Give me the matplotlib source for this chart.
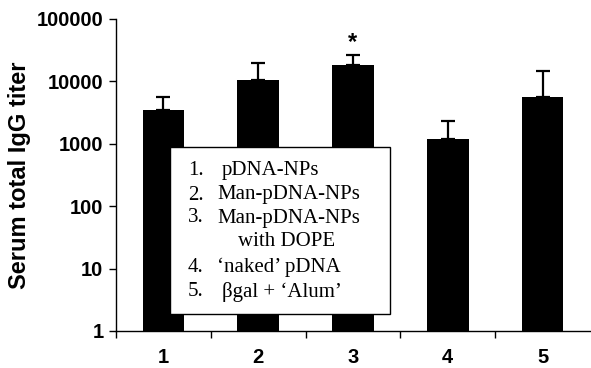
import matplotlib
matplotlib.use('Agg')
import matplotlib.pyplot as plt
from matplotlib.patches import Rectangle

# Data
groups = ['1', '2', '3', '4', '5']
titer = [3480, 10500, 18300, 1190, 5630]
titer_upper = [5630, 19900, 26500, 2320, 14700]
legend_numbers = ['1.', '2.', '3.', '', '4.', '5.']
legend_labels = ['pDNA-NPs', 'Man-pDNA-NPs', 'Man-pDNA-NPs', 'with DOPE',
                 '\u2018naked\u2019 pDNA', '\u03b2gal + \u2018Alum\u2019']

W, H = 591, 368
fig = plt.figure(figsize=(W / 100, H / 100), dpi=100)

# axes placed in pixel coordinates of the reference
x0, x1, y_top, y_bot = 116, 590, 19, 331
ax = fig.add_axes([x0 / W, (H - y_bot) / H, (x1 - x0) / W, (y_bot - y_top) / H])

pos = list(range(len(groups)))
err = [u - t for t, u in zip(titer, titer_upper)]
ax.bar(pos, titer, width=0.44, color='black', zorder=2)
ax.errorbar(pos, titer, yerr=[[0] * len(err), err], fmt='none', ecolor='black',
            elinewidth=1.6, capsize=4.7, capthick=1.6, zorder=1)

ax.set_yscale('log')
ax.set_ylim(1, 100000)
ax.set_xlim(-0.5, len(groups) - 0.5)
ax.set_yticks([1, 10, 100, 1000, 10000, 100000])
ax.set_yticklabels(['1', '10', '100', '1000', '10000', '100000'])
ax.minorticks_off()
ax.set_xticks([p + 0.5 for p in pos[:-1]] + [-0.5])
ax.set_xticklabels([])
for p, g in zip(pos, groups):
    ax.text(p, -0.085, g, transform=ax.get_xaxis_transform(), ha='center', va='center',
            fontsize=14.5, fontweight='bold', family='Liberation Sans')

for s in ['top', 'right']:
    ax.spines[s].set_visible(False)
for s in ['left', 'bottom']:
    ax.spines[s].set_linewidth(1)
ax.tick_params(axis='both', direction='out', length=5, width=1)
ax.tick_params(axis='y', labelsize=14.5, pad=4)
for lab in ax.get_yticklabels():
    lab.set_fontweight('bold')
    lab.set_family('Liberation Sans')

ax.set_ylabel('Serum total IgG titer', fontsize=17, fontweight='bold',
              family='Liberation Sans', labelpad=4)

# significance marker
ax.text(2, titer_upper[2] * 1.6, '*', ha='center', va='center', fontsize=17,
        fontweight='bold', family='Liberation Sans')

# custom legend box (pixel layout of reference)
lx0, lx1, ly0, ly1 = 170, 390, 147, 314
fig.patches.append(Rectangle((lx0 / W, (H - ly1) / H), (lx1 - lx0) / W, (ly1 - ly0) / H,
                             transform=fig.transFigure, facecolor='white',
                             edgecolor='black', linewidth=1, zorder=5))
line_y = [170, 195, 218, 242, 267, 292]
label_x = [222, 217, 217, 238, 217, 222]
for n, lab, yy, xx in zip(legend_numbers, legend_labels, line_y, label_x):
    if n:
        fig.text(188 / W, (H - yy) / H, n, ha='left', va='center', fontsize=15,
                 family='Liberation Serif', zorder=6)
    fig.text(xx / W, (H - yy) / H, lab, ha='left', va='center', fontsize=15,
             family='Liberation Serif', zorder=6)

fig.savefig('out.png', dpi=100)
